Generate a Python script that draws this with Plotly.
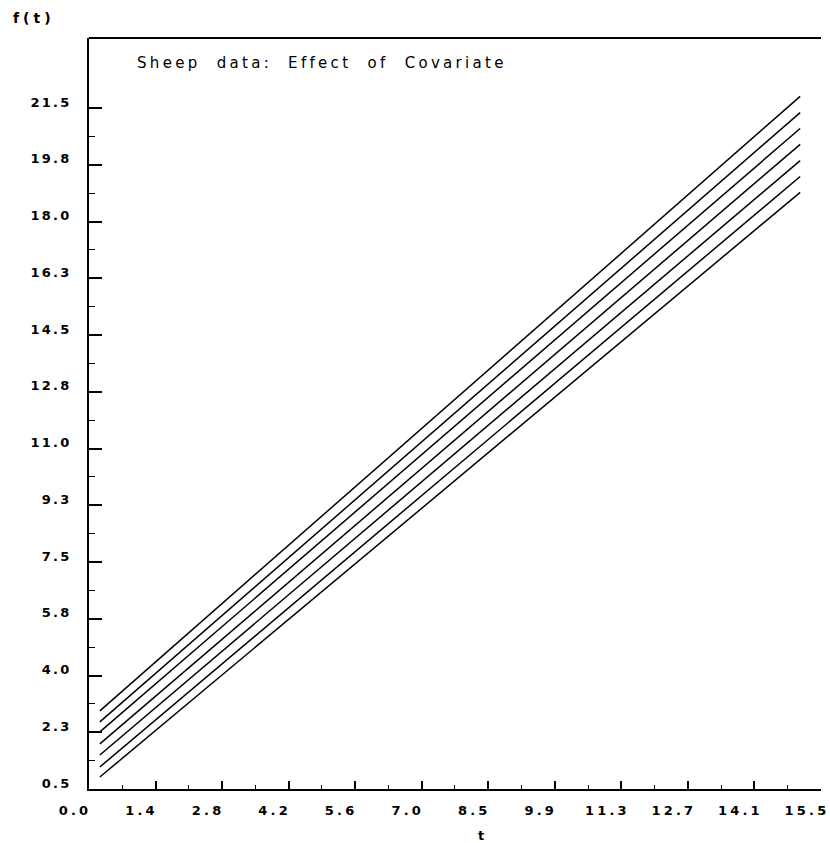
import plotly.graph_objects as go

# ---- data ----
t_points = [0.23, 7.0, 15.06]
line1 = [2.91, 11.56, 21.86]
line2 = [2.57, 11.15, 21.36]
line3 = [2.26, 10.76, 20.87]
line4 = [1.89, 10.33, 20.38]
line5 = [1.55, 9.92, 19.88]
line6 = [1.18, 9.49, 19.39]
line7 = [0.87, 9.10, 18.90]
series = [line1, line2, line3, line4, line5, line6, line7]

x_tick_labels = ["0.0", "1.4", "2.8", "4.2", "5.6", "7.0", "8.5", "9.9", "11.3", "12.7", "14.1", "15.5"]
y_tick_labels = ["0.5", "2.3", "4.0", "5.8", "7.5", "9.3", "11.0", "12.8", "14.5", "16.3", "18.0", "19.8", "21.5"]

x_max = 15.5
y_min, y_step = 0.5, 1.75
y_top = 23.66

x_ticks = [round(x_max * k / 11, 6) for k in range(12)]
y_ticks = [round(y_min + y_step * k, 6) for k in range(13)]
x_minor = [(a + b) / 2 for a, b in zip(x_ticks[:-1], x_ticks[1:])]
y_minor = [(a + b) / 2 for a, b in zip(y_ticks[:-1], y_ticks[1:])]

FONT = "DejaVu Sans"

def spaced(s, sp=3.5):
    return f'<span style="letter-spacing:{sp}px">{s}</span>'

fig = go.Figure()
for ys in series:
    fig.add_trace(go.Scatter(x=t_points, y=ys, mode="lines",
                             line=dict(color="black", width=1.5), showlegend=False,
                             hoverinfo="skip"))

fig.update_layout(
    width=830, height=843,
    margin=dict(l=89, r=1, t=38, b=54),
    paper_bgcolor="white", plot_bgcolor="white",
    font=dict(family=FONT, color="black", size=12),
    showlegend=False,
)

fig.update_xaxes(
    range=[0, x_max + 0.001], showgrid=False, zeroline=False,
    showline=True, linecolor="black", linewidth=2, mirror=False,
    tickmode="array", tickvals=x_ticks, ticktext=[spaced(s, 3.2) for s in x_tick_labels],
    ticks="inside", ticklen=8, tickwidth=1.5, tickcolor="black",
    ticklabelshift=-14, ticklabelstandoff=8, ticklabeloverflow="allow",
    tickfont=dict(family=FONT, size=13, color="black", weight="bold"),
    minor=dict(tickmode="array", tickvals=x_minor, ticks="inside", ticklen=4,
               tickwidth=1.2, tickcolor="black", showgrid=False),
)
fig.update_yaxes(
    range=[y_min, y_top], showgrid=False, zeroline=False,
    showline=True, linecolor="black", linewidth=2, mirror=False,
    tickmode="array", tickvals=y_ticks, ticktext=[spaced(s, 2.2) for s in y_tick_labels],
    ticks="inside", ticklen=13, tickwidth=1.5, tickcolor="black",
    ticklabelshift=-6, ticklabelstandoff=13, ticklabeloverflow="allow",
    tickfont=dict(family=FONT, size=13, color="black", weight="bold"),
    minor=dict(tickmode="array", tickvals=y_minor, ticks="inside", ticklen=6,
               tickwidth=1.2, tickcolor="black", showgrid=False),
)

# top border
fig.add_shape(type="line", xref="paper", yref="paper", x0=0, x1=1, y0=1, y1=1,
              line=dict(color="black", width=2))

fig.add_annotation(text=spaced("Sheep&nbsp;&nbsp;data:&nbsp;&nbsp;Effect&nbsp;&nbsp;of&nbsp;&nbsp;Covariate", 3.3),
                   xref="paper", yref="paper", x=(135 - 89) / 740, y=0.967, xanchor="left", yanchor="middle",
                   showarrow=False, font=dict(family=FONT, size=15, color="black"))
fig.add_annotation(text=spaced("f(t)", 4), xref="paper", yref="paper",
                   x=(10 - 89) / 740, y=1.026, xanchor="left", yanchor="middle", showarrow=False,
                   font=dict(family=FONT, size=14, color="black", weight="bold"))
fig.add_annotation(text="t", xref="paper", yref="paper",
                   x=(485 - 89) / 740, y=-0.062, xanchor="center", yanchor="middle", showarrow=False,
                   font=dict(family=FONT, size=13, color="black", weight="bold"))

fig.write_html("out.html")
